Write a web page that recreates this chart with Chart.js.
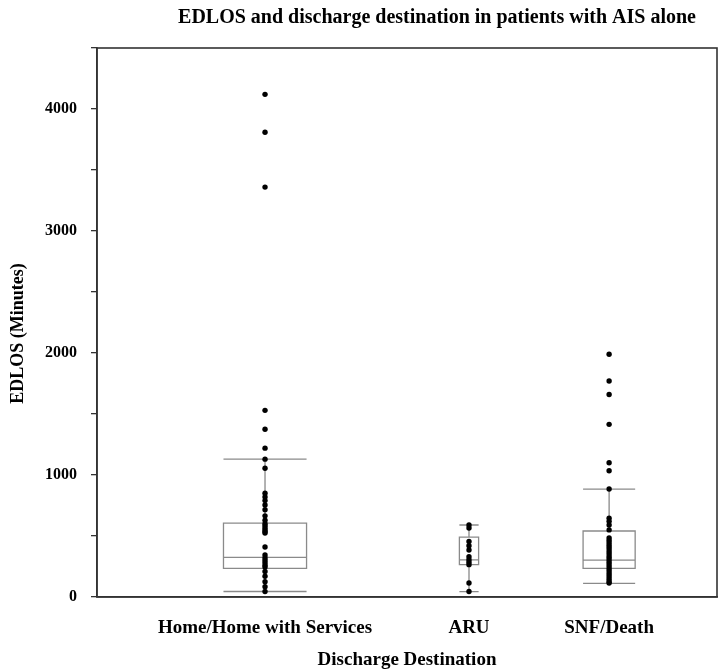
<!DOCTYPE html>
<html>
<head>
<meta charset="utf-8">
<script src="https://cdn.jsdelivr.net/npm/chart.js@4/dist/chart.umd.min.js"></script>
<style>
  html, body { margin: 0; padding: 0; background: #fff; }
  #wrap { width: 720px; height: 671px; position: relative; }
</style>
</head>
<body>
<div id="wrap"><canvas id="edlosChart"></canvas></div>
<script>
// Categories and where they sit on the (hidden) 0..100 x scale
const categories = ['Home/Home with Services', 'ARU', 'SNF/Death'];
const xPos = [27.1, 60.0, 82.6];
const boxWidth = [13.4, 3.1, 8.4];

// Box statistics (minutes)
const whiskerLow = [45, 44, 112];
const q1 = [235, 265, 235];
const median = [325, 305, 303];
const q3 = [605, 490, 541];
const whiskerHigh = [1130, 590, 885];

// Individual patients (minutes)
const homeVals = [4120, 3810, 3360, 1530, 1375, 1220, 1130, 1055, 850, 820, 790, 755, 715, 665, 630,
  600, 585, 565, 550, 535, 525, 410, 345, 320, 300, 280, 260, 245, 210, 170, 125, 85, 45];
const aruVals = [590, 565, 455, 420, 385, 330, 305, 285, 265, 115, 45];
const snfVals = [1990, 1770, 1660, 1415, 1100, 1035, 885, 645, 620, 590, 550, 485, 465, 445, 425,
  405, 385, 365, 345, 325, 305, 285, 265, 245, 225, 205, 185, 165, 145, 125, 115];

// Y axis ticks
const yMin = 0;
const yMax = 4500;
const yStep = 500;
const yLabelEvery = 1000;

const chartTitle = 'EDLOS and discharge destination in patients with AIS alone';
const yTitle = 'EDLOS (Minutes)';

const serif = '"Liberation Serif", "Times New Roman", serif';

// draws boxes + whiskers behind the points, using the chart scales
const boxPlotPlugin = {
  id: 'boxPlot',
  beforeDatasetsDraw(chart) {
    const { ctx, scales: { x, y } } = chart;
    ctx.save();
    ctx.strokeStyle = '#8a8a8a';
    ctx.lineWidth = 1.3;
    for (let i = 0; i < categories.length; i++) {
      const cx = x.getPixelForValue(xPos[i]);
      const left = x.getPixelForValue(xPos[i] - boxWidth[i] / 2);
      const right = x.getPixelForValue(xPos[i] + boxWidth[i] / 2);
      const yq1 = y.getPixelForValue(q1[i]);
      const yq3 = y.getPixelForValue(q3[i]);
      const ymed = y.getPixelForValue(median[i]);
      const ylo = y.getPixelForValue(whiskerLow[i]);
      const yhi = y.getPixelForValue(whiskerHigh[i]);

      ctx.beginPath();
      ctx.rect(left, yq3, right - left, yq1 - yq3);
      // median
      ctx.moveTo(left, ymed); ctx.lineTo(right, ymed);
      // whiskers
      ctx.moveTo(cx, yq3); ctx.lineTo(cx, yhi);
      ctx.moveTo(cx, yq1); ctx.lineTo(cx, ylo);
      // caps
      ctx.moveTo(left, yhi); ctx.lineTo(right, yhi);
      ctx.moveTo(left, ylo); ctx.lineTo(right, ylo);
      ctx.stroke();
    }
    ctx.restore();
  }
};

// closed frame round the plot area, plus the chart title and y title
// (the original has them a bit off-centre, so they're placed by hand)
const framePlugin = {
  id: 'frame',
  afterDraw(chart) {
    const { ctx, chartArea: a } = chart;
    ctx.save();
    ctx.strokeStyle = '#333';
    ctx.lineWidth = 1.6;
    ctx.strokeRect(a.left, a.top, a.right - a.left, a.bottom - a.top);

    ctx.fillStyle = '#000';
    ctx.textAlign = 'center';
    ctx.textBaseline = 'middle';
    ctx.font = 'bold 20px ' + serif;
    ctx.fillText(chartTitle, (a.left + a.right) / 2 + 30, 18);

    ctx.font = 'bold 18px ' + serif;
    ctx.translate(18, (a.top + a.bottom) / 2 + 11);
    ctx.rotate(-Math.PI / 2);
    ctx.fillText(yTitle, 0, 0);
    ctx.restore();
  }
};

function pointsFor(i, vals) {
  return vals.map(v => ({ x: xPos[i], y: v }));
}

const pointStyle = {
  type: 'scatter',
  pointRadius: 2.7,
  pointHoverRadius: 2.7,
  pointBackgroundColor: '#000',
  pointBorderColor: '#000',
  pointBorderWidth: 0,
  showLine: false
};

new Chart(document.getElementById('edlosChart'), {
  type: 'scatter',
  data: {
    datasets: [
      { ...pointStyle, label: categories[0], data: pointsFor(0, homeVals) },
      { ...pointStyle, label: categories[1], data: pointsFor(1, aruVals) },
      { ...pointStyle, label: categories[2], data: pointsFor(2, snfVals) }
    ]
  },
  options: {
    responsive: true,
    maintainAspectRatio: false,
    animation: false,
    layout: { padding: { left: 0, right: 3, top: 48, bottom: 0 } },
    plugins: {
      legend: { display: false },
      tooltip: { enabled: false },
      title: { display: false }
    },
    scales: {
      x: {
        type: 'linear',
        min: 0,
        max: 100,
        afterFit(scale) { scale.height = 74; },
        afterBuildTicks(scale) {
          scale.ticks = xPos.map(v => ({ value: v }));
        },
        grid: { display: false },
        border: { display: true, color: '#333', width: 1.6 },
        ticks: {
          autoSkip: false,
          maxRotation: 0,
          padding: 12,
          color: '#000',
          font: { family: serif, size: 19, weight: 'bold' },
          callback: (v, i) => categories[i]
        },
        title: {
          display: true,
          text: 'Discharge Destination',
          color: '#000',
          font: { family: serif, size: 19, weight: 'bold' },
          padding: { top: 0, bottom: 0 }
        }
      },
      y: {
        min: yMin,
        max: yMax,
        afterFit(scale) { scale.width = 97; },
        grid: {
          display: true,
          drawOnChartArea: false,
          drawTicks: true,
          tickLength: 6,
          color: '#333',
          lineWidth: 1.3
        },
        border: { display: true, color: '#333', width: 1.6 },
        ticks: {
          stepSize: yStep,
          autoSkip: false,
          padding: 14,
          color: '#000',
          font: { family: serif, size: 16, weight: 'bold' },
          callback: v => (v % yLabelEvery === 0 ? v : '')
        },
        title: { display: false }
      }
    }
  },
  plugins: [boxPlotPlugin, framePlugin]
});
</script>
</body>
</html>
